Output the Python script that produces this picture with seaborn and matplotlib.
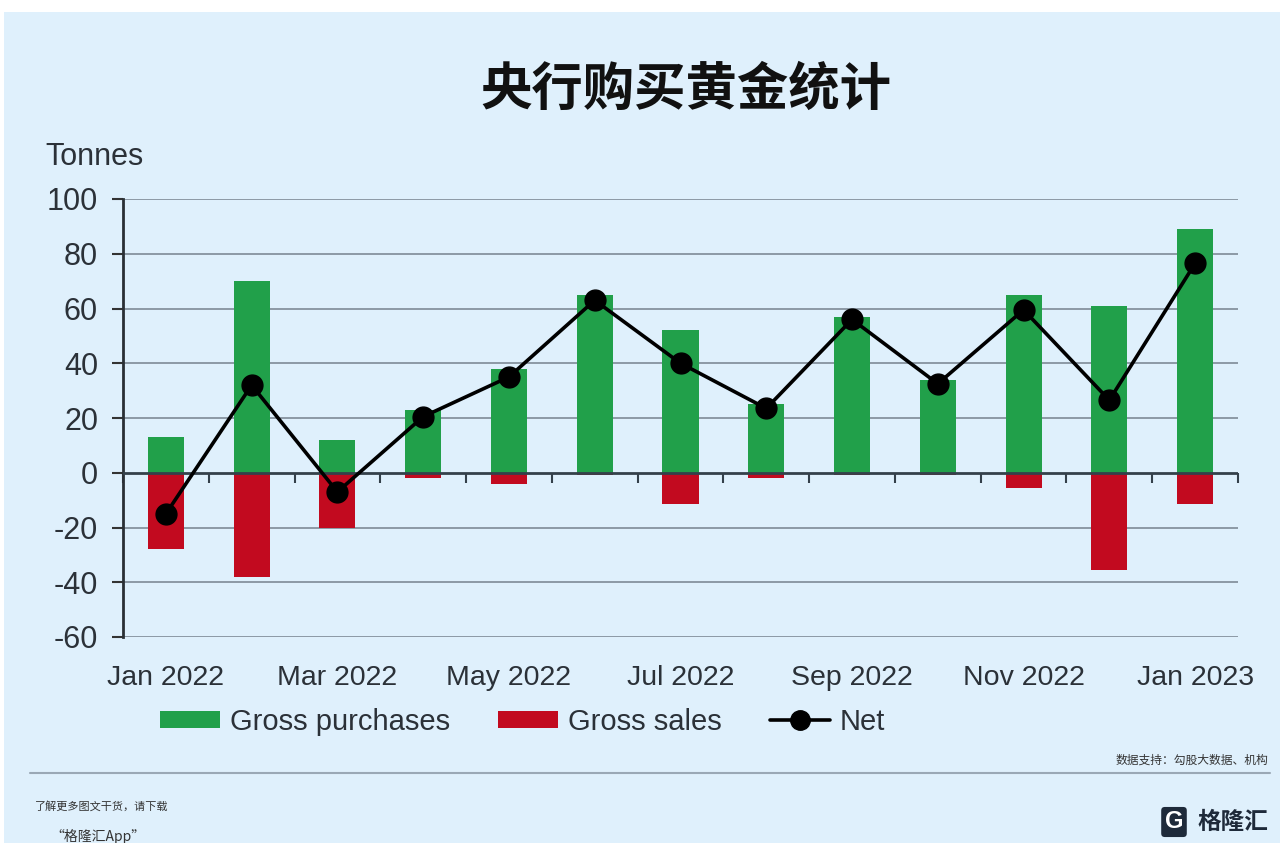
import numpy as np
import pandas as pd
import matplotlib
matplotlib.use("Agg")
import matplotlib.pyplot as plt
import seaborn as sns
from matplotlib.patches import Patch, Rectangle
from matplotlib.lines import Line2D

# ---- data ----
months = ["Jan 2022", "Feb 2022", "Mar 2022", "Apr 2022", "May 2022", "Jun 2022",
          "Jul 2022", "Aug 2022", "Sep 2022", "Oct 2022", "Nov 2022", "Dec 2022", "Jan 2023"]
gross_purchases = [13, 70, 12, 23, 38, 65, 52, 25, 57, 34, 65, 61, 89]
gross_sales = [-28, -38, -20, -2, -4, -1, -11.5, -2, -1, -1, -5.5, -35.5, -11.5]
net = [-15, 32, -7, 20.5, 35, 63, 40, 23.5, 56, 32.5, 59.5, 26.5, 76.5]
tick_labels = ["Jan 2022", "", "Mar 2022", "", "May 2022", "", "Jul 2022", "",
               "Sep 2022", "", "Nov 2022", "", "Jan 2023"]
y_ticks = [-60, -40, -20, 0, 20, 40, 60, 80, 100]

BG = "#DFF0FC"
GREEN = "#21A04A"
RED = "#C20A1F"
TXT = "#2B3138"

sns.set_theme(style="white")
plt.rcParams["font.family"] = ["Liberation Sans", "Noto Sans CJK SC", "DejaVu Sans"]

fig = plt.figure(figsize=(12.8, 8.43), dpi=100, facecolor="white")
fig.add_artist(Rectangle((4 / 1280, 0), 1, 1 - 12 / 843, transform=fig.transFigure,
                         facecolor=BG, edgecolor="none", zorder=-10))

ax = fig.add_axes([123 / 1280, 1 - 637 / 843, (1238 - 123) / 1280, (637 - 199) / 843])
ax.set_facecolor("none")

df = pd.DataFrame({
    "month": months * 2,
    "value": gross_purchases + gross_sales,
    "type": ["Gross purchases"] * len(months) + ["Gross sales"] * len(months),
})
sns.barplot(data=df, x="month", y="value", hue="type", dodge=False, width=0.42,
            palette={"Gross purchases": GREEN, "Gross sales": RED},
            order=months, legend=False, ax=ax, zorder=3, saturation=1,
            linewidth=0, edgecolor="none")

ax.plot(np.arange(len(months)), net, color="black", lw=2.6, marker="o",
        markersize=15, zorder=5)

ax.set_xlim(-0.5, len(months) - 0.5)
ax.set_ylim(-60, 100)
ax.set_yticks(y_ticks)
ax.set_yticklabels([str(v) for v in y_ticks], fontsize=22, color=TXT)
ax.set_xticks(np.arange(len(months)))
ax.set_xticklabels(tick_labels, fontsize=20.5, color=TXT)
ax.tick_params(axis="x", length=0, pad=20)
ax.tick_params(axis="y", length=8, width=1.5, color="#333", pad=10, left=True)
ax.set_xlabel("")
ax.set_ylabel("")

for v in y_ticks:
    if v != 0:
        ax.axhline(v, color="#86929E", lw=1.3, zorder=1)
ax.axhline(0, color="#34404A", lw=2, zorder=4)

for s in ["top", "right", "bottom"]:
    ax.spines[s].set_visible(False)
ax.spines["left"].set_color("#2A2F35")
ax.spines["left"].set_linewidth(2)

# ticks on zero line at category boundaries
sec = ax.secondary_xaxis(60 / 160)
sec.set_xticks(np.arange(len(months) + 1) - 0.5)
sec.set_xticklabels([])
sec.tick_params(axis="x", length=7, width=1.5, color="#34404A", direction="out")
sec.spines["bottom"].set_visible(False)

# title and axis label
fig.text(686 / 1280, 1 - 89 / 843, "央行购买黄金统计", ha="center", va="center",
         fontsize=37, fontweight="bold", color="#111",
         family=["Noto Sans CJK SC", "DejaVu Sans"])
fig.text(45 / 1280, 1 - 157 / 843, "Tonnes", ha="left", va="center", fontsize=22, color=TXT)

# legend
handles = [
    Patch(facecolor=GREEN, edgecolor="none", label="Gross purchases"),
    Patch(facecolor=RED, edgecolor="none", label="Gross sales"),
    Line2D([], [], color="black", lw=2.6, marker="o", markersize=14, label="Net"),
]
leg = fig.legend(handles=handles, loc="center left", ncol=3, frameon=False,
                 bbox_to_anchor=(160 / 1280, 1 - 722 / 843), fontsize=21,
                 handlelength=2.05, handleheight=0.55, handletextpad=0.35,
                 columnspacing=1.65, borderpad=0, borderaxespad=0)
for t in leg.get_texts():
    t.set_color(TXT)

# footer
fig.add_artist(Line2D([30 / 1280, 1270 / 1280], [1 - 773 / 843, 1 - 773 / 843],
                      transform=fig.transFigure, color="#9AA8B5", lw=1.5))
fig.text(1268 / 1280, 1 - 760 / 843, "数据支持：勾股大数据、机构", ha="right", va="center",
         fontsize=8.5, color="#333", family=["Noto Sans CJK SC", "DejaVu Sans"])
fig.text(35 / 1280, 1 - 806 / 843, "了解更多图文干货，请下载", ha="left", va="center",
         fontsize=8, color="#333", style="italic", family=["Noto Sans CJK SC", "DejaVu Sans"])
fig.text(50 / 1280, 1 - 836 / 843, "“格隆汇App”", ha="left", va="center",
         fontsize=10, color="#333", family=["Noto Sans CJK SC", "DejaVu Sans"])
fig.text(1174 / 1280, 1 - 822 / 843, "G", ha="center", va="center", fontsize=17,
         fontweight="bold", color="white",
         bbox=dict(boxstyle="round,pad=0.15", facecolor="#1E2A3A", edgecolor="none"))
fig.text(1268 / 1280, 1 - 822 / 843, "格隆汇", ha="right", va="center", fontsize=17,
         fontweight="bold", color="#1E2A3A", family=["Noto Sans CJK SC", "DejaVu Sans"])

fig.savefig("out.png", dpi=100, facecolor="white")
